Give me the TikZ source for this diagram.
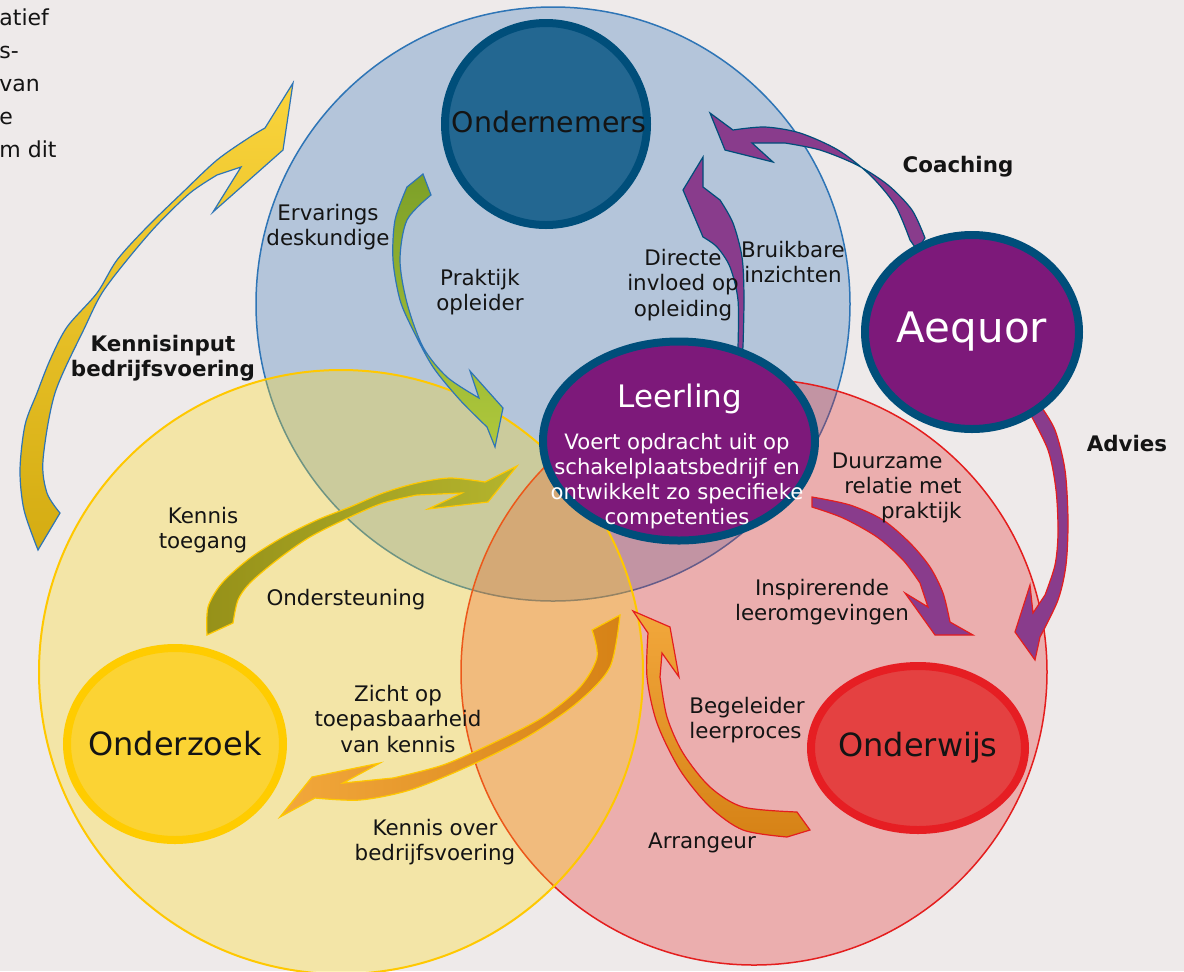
\documentclass[tikz,border=0pt]{standalone}
\usepackage{fontspec}
\setmainfont{DejaVu Sans}
\usepackage{tikz,xcolor}
\usetikzlibrary{shapes.geometric}

\definecolor{paper}{RGB}{238,234,234}
\definecolor{skyfill}{RGB}{180,197,218}
\definecolor{skyline}{RGB}{46,117,182}
\definecolor{goldfill}{RGB}{255,218,18}
\definecolor{goldline}{RGB}{255,200,0}
\definecolor{redfill}{RGB}{229,36,36}
\definecolor{redline}{RGB}{228,30,30}
\definecolor{navyring}{RGB}{0,78,122}
\definecolor{steel}{RGB}{35,103,145}
\definecolor{plum}{RGB}{125,25,122}
\definecolor{arrowplum}{RGB}{137,60,140}
\definecolor{coral}{RGB}{228,65,65}
\definecolor{coralring}{RGB}{230,30,35}
\definecolor{sun}{RGB}{251,211,52}
\definecolor{sunring}{RGB}{255,204,0}
\definecolor{ink}{RGB}{20,20,20}
\definecolor{goldlow}{RGB}{212,172,18}
\definecolor{goldhigh}{RGB}{250,212,60}
\definecolor{leafdark}{RGB}{125,160,40}
\definecolor{leaflight}{RGB}{175,200,60}
\definecolor{olivedark}{RGB}{150,145,25}
\definecolor{olivelight}{RGB}{180,180,45}
\definecolor{amberdark}{RGB}{214,130,22}
\definecolor{amberlight}{RGB}{242,168,60}

\begin{document}
\begin{tikzpicture}[
        x=0.5pt, y=-0.5pt,
        every node/.style={inner sep=0pt, align=center, text=ink, font=\fontsize{10.7}{12.7}\selectfont},
        keylbl/.style={font=\fontsize{10.7}{12.7}\selectfont\bfseries},
        actor/.style={ellipse, line width=4pt, draw=navyring, fill=plum},
        bigarrow/.style={line width=0.6pt, line join=miter}
    ]
        % Canvas
        \useasboundingbox (0,0) rectangle (1184,971);
        \clip (0,0) rectangle (1184,971);
        \fill[paper] (0,0) rectangle (1184,971);

        % Three big domains
        \draw[line width=0.75pt, draw=skyline, fill=skyfill] (553,304) circle[radius=297];
        \draw[line width=0.75pt, draw=redline, fill=redfill, fill opacity=0.3] (754,672) circle[radius=293];
        \draw[line width=1pt, draw=goldline, fill=goldfill, fill opacity=0.31] (341,672) circle[radius=302];

        % Kennisinput bedrijfsvoering
        \path[bigarrow, draw=skyline, bottom color=goldlow, top color=goldhigh]
            plot[smooth] coordinates {(38,550) (24,510) (20,470) (25,425) (37,393) (50,360) (67,327) (97,293) (117,260) (147,227) (182,193) (217,160) (250,137) (265,128)}
            -- (293,83) -- (283,150) -- (213,212) -- (241,167)
            -- plot[smooth] coordinates {(217,175) (190,193) (157,225) (127,260) (102,293) (85,327) (55,393) (43,460) (47,493) (60,513)}
            -- cycle;

        % Praktijk opleider
        \path[bigarrow, draw=skyline, top color=leafdark, bottom color=leaflight]
            (423,174) -- plot[smooth] coordinates {(431,195) (407,220) (400,260) (407,303) (423,347) (447,377) (479,398)}
            -- (470,371) -- (503,408) -- (495,447)
            -- plot[smooth] coordinates {(487,427) (460,400) (433,367) (413,330) (400,300) (393,260) (395,220) (407,187)}
            -- cycle;

        % Directe invloed op opleiding
        \path[bigarrow, draw=navyring, fill=arrowplum]
            (740,365) -- plot[smooth] coordinates {(738,347) (738,300) (730,267) (717,247) (703,237)}
            -- (683,190) -- (703,157) -- (703,187)
            -- plot[smooth] coordinates {(720,200) (733,223) (742,257) (744,297) (743,347)}
            -- cycle;

        % Coaching
        \path[bigarrow, draw=navyring, fill=arrowplum]
            (917,250) -- plot[smooth] coordinates {(910,240) (895,205) (870,175) (838,150) (800,133) (765,127) (733,130)}
            -- (710,113) -- (725,150) -- (773,162) -- (752,143)
            -- plot[smooth] coordinates {(785,143) (820,150) (857,165) (888,185) (912,210) (925,238)}
            -- cycle;

        % Duurzame relatie / Inspirerende leeromgevingen
        \path[bigarrow, draw=redline, fill=arrowplum]
            plot[smooth] coordinates {(812,497) (850,505) (883,520) (910,543) (930,567) (943,593) (950,622)}
            -- (973,635) -- (935,635) -- (905,593) -- (928,607)
            -- plot[smooth] coordinates {(920,583) (903,560) (877,537) (843,518) (812,507)}
            -- cycle;

        % Advies
        \path[bigarrow, draw=redline, fill=arrowplum]
            plot[smooth] coordinates {(1040,405) (1055,430) (1065,470) (1068,520) (1066,565) (1058,600) (1040,637)}
            -- (1035,660) -- (1015,632) -- (1030,585) -- (1033,613)
            -- plot[smooth] coordinates {(1045,595) (1055,565) (1058,533) (1056,490) (1048,450) (1028,410)}
            -- cycle;

        % Kennis toegang / Ondersteuning
        \path[bigarrow, draw=goldline, left color=olivedark, right color=olivelight]
            plot[smooth] coordinates {(207,635) (208,607) (222,583) (250,558) (283,537) (317,520) (350,507) (383,493) (417,483) (450,478) (485,482)}
            -- (517,466) -- (488,502) -- (428,509) -- (462,493)
            -- plot[smooth] coordinates {(417,495) (383,503) (350,517) (310,537) (277,560) (250,583) (238,600) (233,623)}
            -- cycle;

        % Zicht op toepasbaarheid / Kennis over bedrijfsvoering
        \path[bigarrow, draw=goldline, left color=amberlight, right color=amberdark]
            plot[smooth] coordinates {(620,615) (610,667) (577,703) (527,737) (467,767) (410,790) (360,800) (315,798)}
            -- (280,817) -- (312,777) -- (380,763) -- (343,783)
            -- plot[smooth] coordinates {(393,778) (443,765) (493,743) (543,717) (580,687) (597,657) (592,630)}
            -- cycle;

        % Begeleider leerproces / Arrangeur
        \path[bigarrow, draw=redline, top color=amberlight, bottom color=amberdark]
            (633,611) -- (670,627) -- (679,677) -- (662,653)
            -- plot[smooth] coordinates {(660,677) (667,717) (683,753) (710,787) (743,807) (797,812)}
            -- (810,830)
            -- plot[smooth] coordinates {(787,837) (743,830) (710,807) (680,770) (657,723) (647,677) (648,633)}
            -- cycle;

        % Actors
        \node[actor, fill=steel, minimum width=101pt, minimum height=101pt] (ondernemers) at (546,124) {};
        \node[actor, minimum width=107pt, minimum height=97pt] (aequor) at (972,332) {};
        \node[actor, minimum width=136pt, minimum height=99.5pt] (leerling) at (679,441) {};
        \node[actor, draw=coralring, fill=coral, minimum width=107pt, minimum height=82pt] (onderwijs) at (918,748) {};
        \node[actor, draw=sunring, fill=sun, minimum width=108pt, minimum height=96pt] (onderzoek) at (175,744) {};

        % Actor names
        \node[font=\fontsize{14.2}{16}\selectfont] (ondernemerstext) at (549,122) {Ondernemers};
        \node[text=white, font=\fontsize{21}{24}\selectfont] (aequortext) at (aequor) {Aequor};
        \node[font=\fontsize{16}{18}\selectfont] (onderwijstext) at (onderwijs) {Onderwijs};
        \node[font=\fontsize{16}{18}\selectfont] (onderzoektext) at (onderzoek) {Onderzoek};
        \node[text=white, font=\fontsize{15.5}{18}\selectfont] (leerlingtitle) at (680,399) {Leerling};
        \node[text=white, font=\fontsize{10.6}{12.6}\selectfont] (leerlingtext) at (677,481)
            {Voert opdracht uit op\\schakelplaatsbedrijf en\\ontwikkelt zo specifieke\\competenties};

        % Labels
        \node (ervarings) at (328,227) {Ervarings\\deskundige};
        \node (praktijk) at (480,292) {Praktijk\\opleider};
        \node (directe) at (683,285) {Directe\\invloed op\\opleiding};
        \node (bruikbare) at (793,262) {Bruikbare\\inzichten};
        \node[keylbl] (kennisinput) at (163,358) {Kennisinput\\bedrijfsvoering};
        \node[keylbl] (coaching) at (958,167) {Coaching};
        \node[keylbl] (advies) at (1127,444) {Advies};
        \node[anchor=east, align=right] (duurzame) at (962,488) {Duurzame\hspace*{9.5pt}\\relatie met\\praktijk};
        \node (inspirerende) at (822,602) {Inspirerende\\leeromgevingen};
        \node (kennistoegang) at (203,530) {Kennis\\toegang};
        \node (ondersteuning) at (346,600) {Ondersteuning};
        \node (zicht) at (398,719) {Zicht op\\toepasbaarheid\\van kennis};
        \node (kennisover) at (435,842) {Kennis over\\bedrijfsvoering};
        \node[anchor=west, align=left] (begeleider) at (689,720) {Begeleider\\leerproces};
        \node (arrangeur) at (702,843) {Arrangeur};

        % Page text cut off at the left
        \node[anchor=west, align=left, font=\fontsize{11}{16.5}\selectfont] (pagetext) at (-1,83)
            {atief\\s-\\van\\e\\m dit};
    \end{tikzpicture}
\end{document}
